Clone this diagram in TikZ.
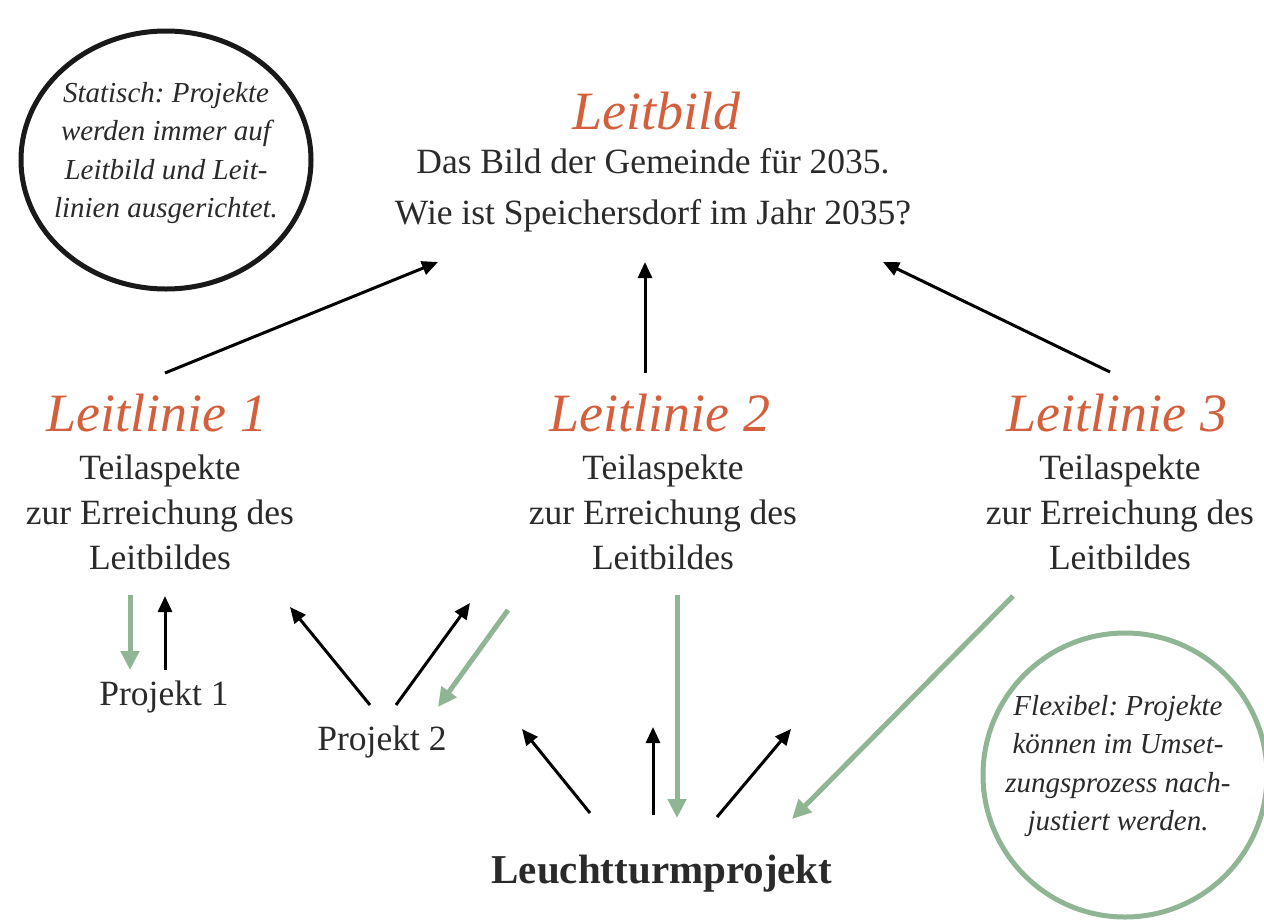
\documentclass[tikz,border=0pt]{standalone}
\usepackage{fontspec}
\setmainfont{Liberation Serif}
\usetikzlibrary{arrows.meta,shapes.geometric}
\definecolor{lbred}{HTML}{D35F3C}
\definecolor{lbgreen}{HTML}{8FB595}
\definecolor{lbtext}{HTML}{2A2A2A}
\frenchspacing
\begin{document}
\begin{tikzpicture}[x=1pt,y=-1pt,
  title/.style={font=\fontsize{54}{60}\selectfont\itshape, text=lbred, inner sep=0pt},
  body/.style={font=\fontsize{35.5}{45}\selectfont, align=center, inner sep=0pt, text=lbtext},
  note/.style={font=\fontsize{29}{38.5}\selectfont\itshape, align=center, inner sep=0pt, text=lbtext},
  blk/.style={line width=3pt, draw=black, -{Triangle[length=16pt,width=14pt]}},
  grn/.style={line width=5pt, draw=lbgreen, -{Triangle[length=19pt,width=18pt]}},
]
\useasboundingbox (0,0) rectangle (1264,922);
\fill[white] (0,0) rectangle (1264,922);

% circles
\node[draw=black!90, line width=5pt, ellipse, minimum width=290pt, minimum height=258pt, inner sep=0pt] (statc) at (166,160) {};
\node[note] (stat) at (166,153) {Statisch: Projekte\\werden immer auf\\Leitbild und Leit-\\linien ausgerichtet.};
\node[draw=lbgreen, line width=5pt, circle, minimum size=284pt, inner sep=0pt] (flexc) at (1125,775) {};
\node[note] (flex) at (1118,766) {Flexibel: Projekte\\können im Umset-\\zungsprozess nach-\\justiert werden.};

% Leitbild
\node[title] (lb) at (656,111) {Leitbild};
\node[body, font=\fontsize{35.5}{51}\selectfont] (lbt) at (653,190) {Das Bild der Gemeinde für 2035.\\Wie ist Speichersdorf im Jahr 2035?};

% Leitlinien
\node[title] (l1) at (157,413) {Leitlinie 1};
\node[title] (l2) at (660,413) {Leitlinie 2};
\node[title] (l3) at (1117,413) {Leitlinie 3};
\node[body] (t1) at (160,512) {Teilaspekte\\zur Erreichung des\\Leitbildes};
\node[body] (t2) at (663,512) {Teilaspekte\\zur Erreichung des\\Leitbildes};
\node[body] (t3) at (1120,512) {Teilaspekte\\zur Erreichung des\\Leitbildes};

% Projekte
\node[body] (p1) at (164,697) {Projekt 1};
\node[body] (p2) at (382,742) {Projekt 2};
\node[body, font=\fontsize{41}{45}\selectfont\bfseries] (lt) at (662,874) {Leuchtturmprojekt};

% connector end points
\coordinate (a1s) at (165,373); \coordinate (a1e) at (438,262);
\coordinate (a2s) at (645,373); \coordinate (a2e) at (645,262);
\coordinate (a3s) at (1110,372); \coordinate (a3e) at (883,262);
\coordinate (p1u1) at (165,670); \coordinate (p1u2) at (165,596);
\coordinate (p1d1) at (130,595); \coordinate (p1d2) at (130,670);
\coordinate (p2a1) at (370,705); \coordinate (p2a2) at (290,607);
\coordinate (p2b1) at (396,705); \coordinate (p2b2) at (470,603);
\coordinate (p2g1) at (508,610); \coordinate (p2g2) at (438,707);
\coordinate (lta1) at (590,813); \coordinate (lta2) at (522,729);
\coordinate (ltb1) at (653,815); \coordinate (ltb2) at (653,727);
\coordinate (ltg1) at (677,595); \coordinate (ltg2) at (677,818);
\coordinate (ltc1) at (717,817); \coordinate (ltc2) at (791,729);
\coordinate (ltd1) at (1013,596); \coordinate (ltd2) at (792,819);

\draw[blk] (a1s) -- (a1e);
\draw[blk] (a2s) -- (a2e);
\draw[blk] (a3s) -- (a3e);
\draw[blk] (p1u1) -- (p1u2);
\draw[grn] (p1d1) -- (p1d2);
\draw[blk] (p2a1) -- (p2a2);
\draw[blk] (p2b1) -- (p2b2);
\draw[grn] (p2g1) -- (p2g2);
\draw[blk] (lta1) -- (lta2);
\draw[blk] (ltb1) -- (ltb2);
\draw[grn] (ltg1) -- (ltg2);
\draw[blk] (ltc1) -- (ltc2);
\draw[grn] (ltd1) -- (ltd2);
\end{tikzpicture}
\end{document}
